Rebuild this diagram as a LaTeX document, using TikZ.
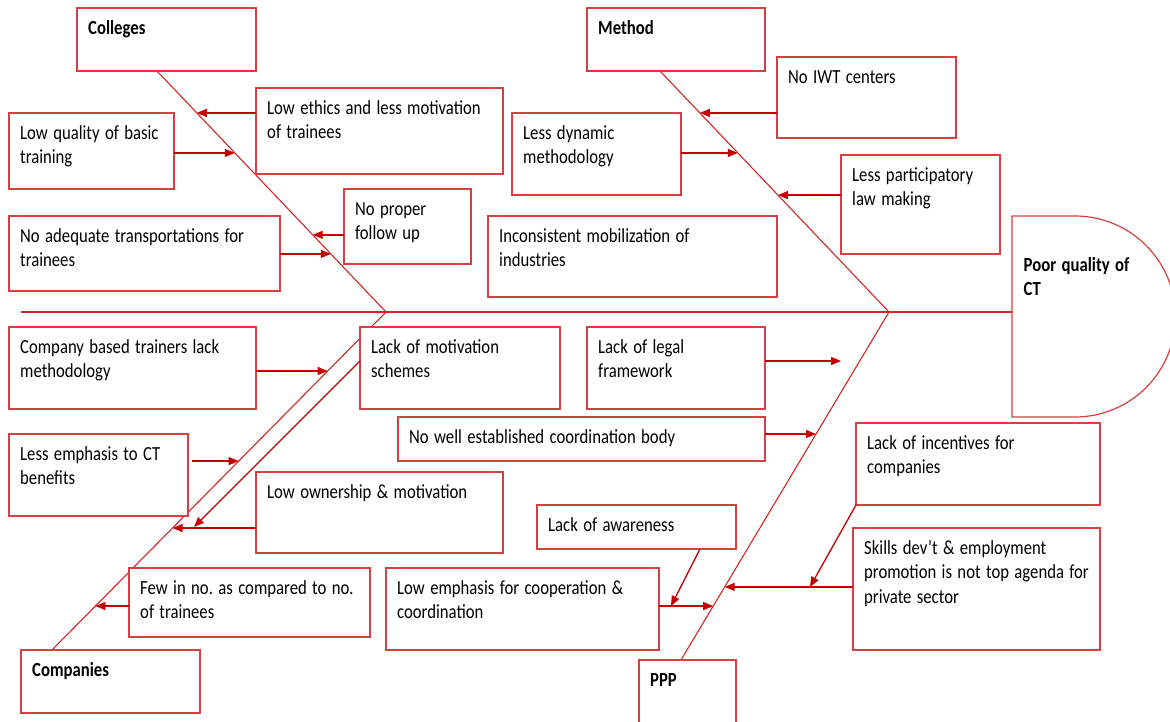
\documentclass[tikz,border=0pt]{standalone}
\usepackage{fontspec}
\setmainfont{Carlito}[FakeStretch=0.835]
\usetikzlibrary{arrows.meta,calc,backgrounds}
\frenchspacing

\definecolor{boxred}{RGB}{214,64,64}
\definecolor{bonered}{RGB}{206,40,40}
\definecolor{arrred}{RGB}{196,0,0}

\newcommand\boxfont{\fontsize{20}{24.3}\selectfont}
\newcommand\wordgap{\spaceskip=5.4pt plus 1pt minus 0.5pt\relax
  \xspaceskip=\spaceskip}

\tikzset{
  cell/.style={draw=boxred, fill=white, line width=1.2pt, rectangle,
    inner sep=0pt, outer sep=0pt, anchor=north west},
  txt/.style={inner sep=0pt, anchor=base west, align=left, text width=400pt,
    font=\boxfont},
  head/.style={txt, font=\bfseries\boxfont},
  bone/.style={draw=bonered, line width=1.1pt},
  cause/.style={draw=arrred, line width=1.3pt,
    -{Triangle[length=10pt,width=8pt]}},
}

% box with its text: [text style] name, x, y, width, height, text
\newcommand\causebox[7][txt]{%
  \node[cell, minimum width=#5pt, minimum height=#6pt] (#2) at (#3,#4) {};
  \node[#1] (#2-t) at ([shift={(11,26.5)}]#2.north west) {\wordgap #7};}

\begin{document}
\begin{tikzpicture}[x=1pt,y=-1pt]
\useasboundingbox (0,0) rectangle (1170,722);

% ---- category boxes
\causebox[head]{colleges}{77}{8}{179}{63}{Colleges}
\causebox[head]{method}{587}{8}{178}{63}{Method}
\causebox[head]{companies}{21}{650}{179}{63}{Companies}
\causebox[head]{ppp}{639}{660}{97}{80}{PPP}

% ---- causes: colleges
\causebox{ethics}{256}{88}{247}{86}{Low ethics and less motivation\\of trainees}
\causebox{lowq}{9}{113}{165}{76}{Low quality of basic\\training}
\causebox{follow}{344}{189}{127}{75}{No proper\\follow up}
\causebox{transport}{9}{216}{271}{75}{No adequate transportations for\\trainees}

% ---- causes: method
\causebox{iwt}{777}{57}{179}{81}{No IWT centers}
\causebox{dynamic}{512}{113}{169}{82}{Less dynamic\\methodology}
\causebox{particip}{841}{155}{159}{99}{Less participatory\\law making}
\causebox{inconsist}{488}{216}{289}{81}{Inconsistent mobilization of\\industries}

% ---- causes: companies
\causebox{cbt}{9}{327}{247}{82}{Company based trainers lack\\methodology}
\causebox{motiv}{360}{327}{200}{82}{Lack of motivation\\schemes}
\causebox{emph}{9}{434}{179}{82}{Less emphasis to CT\\benefits}
\causebox{own}{256}{472}{247}{81}{Low ownership \& motivation}
\causebox{few}{129}{568}{241}{69}{Few in no. as compared to no.\\of trainees}

% ---- causes: PPP
\causebox{legal}{587}{327}{178}{82}{Lack of legal\\framework}
\causebox{coordbody}{398}{417}{367}{44}{No well established coordination body}
\causebox{aware}{537}{505}{199}{44}{Lack of awareness}
\causebox{coop}{386}{568}{273}{82}{Low emphasis for cooperation \&\\coordination}
\causebox{incent}{856}{423}{244}{82}{Lack of incentives for\\companies}
\causebox{skills}{853}{528}{247}{122}{Skills dev’t \& employment\\promotion is not top agenda for\\private sector}

% ---- effect (head of the fish)
\node[inner sep=0pt, outer sep=0pt, anchor=north west,
      minimum width=63pt, minimum height=201pt] (head) at (1012,216) {};
\draw[draw=boxred, fill=white, line width=1.2pt]
  (head.north west) -- (head.north east)
  arc[start angle=-90, end angle=90, radius=100.5]
  -- (head.south west) -- cycle;
\node[head] (head-t) at ([shift={(11.5,55)}]head.north west)
  {\wordgap Poor quality of\\CT};

% ---- spine and bones
\coordinate (spineL) at (21,312);
\coordinate (tipA) at (386,312);
\coordinate (tipB) at (889,312);
\begin{scope}[on background layer]
  \fill[white] (0,0) rectangle (1170,722);
  \draw[bone] (spineL) -- (head.west |- tipA);
  \draw[bone] ($(colleges.south west)+(80,0)$) coordinate (colTop)
    -- (tipA) -- ($(companies.north west)+(31,0)$) coordinate (comBot);
  \draw[bone] ($(method.south west)+(73,0)$) coordinate (metTop)
    -- (tipB) -- ($(ppp.north west)+(42,0)$) coordinate (pppBot);
\end{scope}

% points where the causes meet the bones
\path (colTop) -- coordinate[pos=0.174] (c1) coordinate[pos=0.340] (c2)
  coordinate[pos=0.680] (c3) coordinate[pos=0.759] (c4) (tipA);
\path (metTop) -- coordinate[pos=0.174] (m1) coordinate[pos=0.340] (m2)
  coordinate[pos=0.515] (m3) (tipB);
\path (tipA) -- coordinate[pos=0.1746] (k1) coordinate[pos=0.441] (k2)
  coordinate[pos=0.639] (k3) coordinate[pos=0.870] (k4) (comBot);
\path (tipB) -- coordinate[pos=0.3506] (p1) coordinate[pos=0.790] (p2)
  coordinate[pos=0.845] (p3) (pppBot);

% ---- cause arrows: colleges
\draw[cause] (ethics.west |- c1) -- (c1);
\draw[cause] (lowq.east |- c2) -- (c2);
\draw[cause] (follow.west |- c3) -- (c3);
\draw[cause] (transport.east |- c4) -- (c4);

% ---- cause arrows: method
\draw[cause] (iwt.west |- m1) -- (m1);
\draw[cause] (dynamic.east |- m2) -- (m2);
\draw[cause] (particip.west |- m3) -- (m3);

% ---- cause arrows: companies
\draw[cause] (cbt.east |- k1) -- (k1);
\draw[cause] ($(emph.east |- k2)+(4,0)$) -- (k2);
\draw[cause] (own.west |- k3) -- (k3);
\draw[cause] (few.west |- k4) -- (k4);
\coordinate (motivEnd) at (194,527);
\draw[cause] ($(motiv.north west)+(0,34)$) -- (motivEnd);

% ---- cause arrows: PPP
\coordinate (legalEnd) at (841,361);
\draw[cause] (legal.east |- legalEnd) -- (legalEnd);
\draw[cause] (coordbody.east |- p1) -- (p1);
\draw[cause] (coop.east |- p3) -- (p3);
\draw[cause] (skills.west |- p2) -- (p2);
\draw[cause] ($(aware.south west)+(163,0)$) -- ($(coop.east |- p3)+(12,0)$);
\draw[cause] (incent.south west) -- ($(skills.west |- p2)+(-43,0)$);
\end{tikzpicture}
\end{document}
